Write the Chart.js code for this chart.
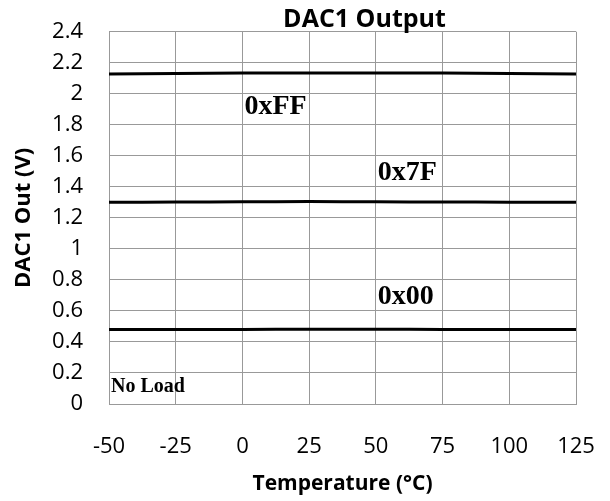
<!DOCTYPE html>
<html lang="en">

<head>
    <meta charset="UTF-8">
    <script src="https://cdn.jsdelivr.net/npm/chart.js"></script>
    <title>DAC1 Output</title>
    <style>
        body { margin: 0; background: #fff; }
        #wrap { width: 610px; height: 501px; }
    </style>
</head>

<body>
    <div id="wrap">
        <canvas id="chart" width="610" height="501"></canvas>
    </div>

    <script>
        // temperature points (°C)
        const temps = [-50, -25, 0, 25, 50, 75, 100, 125];

        // DAC1 output (V) for each code
        const codeFF = [2.128, 2.131, 2.133, 2.134, 2.134, 2.133, 2.130, 2.128];
        const code7F = [1.300, 1.302, 1.303, 1.305, 1.303, 1.302, 1.301, 1.300];
        const code00 = [0.480, 0.481, 0.481, 0.482, 0.482, 0.481, 0.481, 0.480];

        // text labels inside the plot: text, left edge (°C), middle (V)
        const noteText = ['0xFF', '0x7F', '0x00', 'No Load'];
        const noteX = [0, 50, 50, -50];
        const noteY = [1.915, 1.49, 0.69, 0.11];

        const chartTitle = 'DAC1 Output';

        const toPoints = (vals) => vals.map((v, i) => ({ x: temps[i], y: v }));

        // title (sits right of centre) and the in-plot notes
        const notesPlugin = {
            id: 'notes',
            afterDraw(chart) {
                const ctx = chart.ctx;
                const area = chart.chartArea;
                const xs = chart.scales.x;
                const ys = chart.scales.y;
                ctx.save();
                ctx.fillStyle = '#000';
                ctx.font = 'bold 25px "Open Sans"';
                ctx.textAlign = 'center';
                ctx.textBaseline = 'alphabetic';
                ctx.fillText(chartTitle, (area.left + area.right) / 2 + 22, area.top - 5);

                ctx.textAlign = 'left';
                ctx.textBaseline = 'middle';
                for (let i = 0; i < noteText.length; i++) {
                    ctx.font = noteText[i] === 'No Load'
                        ? 'bold 20px "Liberation Serif"'
                        : 'bold 28px "Liberation Serif"';
                    ctx.fillText(noteText[i], xs.getPixelForValue(noteX[i]) + 2, ys.getPixelForValue(noteY[i]));
                }
                ctx.restore();
            }
        };

        const lineStyle = {
            borderColor: '#000',
            borderWidth: 3,
            pointRadius: 0,
            fill: false,
            tension: 0.4
        };

        new Chart('chart', {
            type: 'line',
            data: {
                datasets: [
                    { label: '0xFF', data: toPoints(codeFF), ...lineStyle },
                    { label: '0x7F', data: toPoints(code7F), ...lineStyle },
                    { label: '0x00', data: toPoints(code00), ...lineStyle }
                ]
            },
            options: {
                responsive: false,
                animation: false,
                layout: {
                    padding: { left: 0, right: 34, top: 31.7, bottom: 0 }
                },
                scales: {
                    x: {
                        type: 'linear',
                        min: -50,
                        max: 125,
                        // fixed height, and drop the label overhang so layout padding rules
                        afterFit: (s) => {
                            s.height = 97;
                            s.paddingLeft = 0;
                            s.paddingRight = 0;
                        },
                        ticks: {
                            stepSize: 25,
                            padding: 30,
                            color: '#000',
                            font: { family: 'Open Sans', size: 22 }
                        },
                        grid: { color: '#999', lineWidth: 1, drawTicks: false },
                        border: { color: '#999' },
                        title: {
                            display: true,
                            text: 'Temperature (°C)',
                            color: '#000',
                            font: { family: 'Open Sans', size: 21, weight: 'bold' },
                            padding: { top: 0, bottom: 4 }
                        }
                    },
                    y: {
                        min: 0,
                        max: 2.4,
                        afterFit: (s) => {
                            s.width = 109;
                            s.paddingTop = 0;
                            s.paddingBottom = 0;
                        },
                        ticks: {
                            stepSize: 0.2,
                            padding: 26,
                            color: '#000',
                            font: { family: 'Open Sans', size: 22 },
                            callback: (v) => +v.toFixed(1)
                        },
                        grid: { color: '#999', lineWidth: 1, drawTicks: false },
                        border: { color: '#999' },
                        title: {
                            display: true,
                            text: 'DAC1 Out (V)',
                            color: '#000',
                            font: { family: 'Open Sans', size: 22, weight: 'bold' },
                            padding: { top: 11, bottom: 0 }
                        }
                    }
                },
                plugins: {
                    legend: { display: false },
                    tooltip: { enabled: false }
                }
            },
            plugins: [notesPlugin]
        });
    </script>
</body>

</html>
